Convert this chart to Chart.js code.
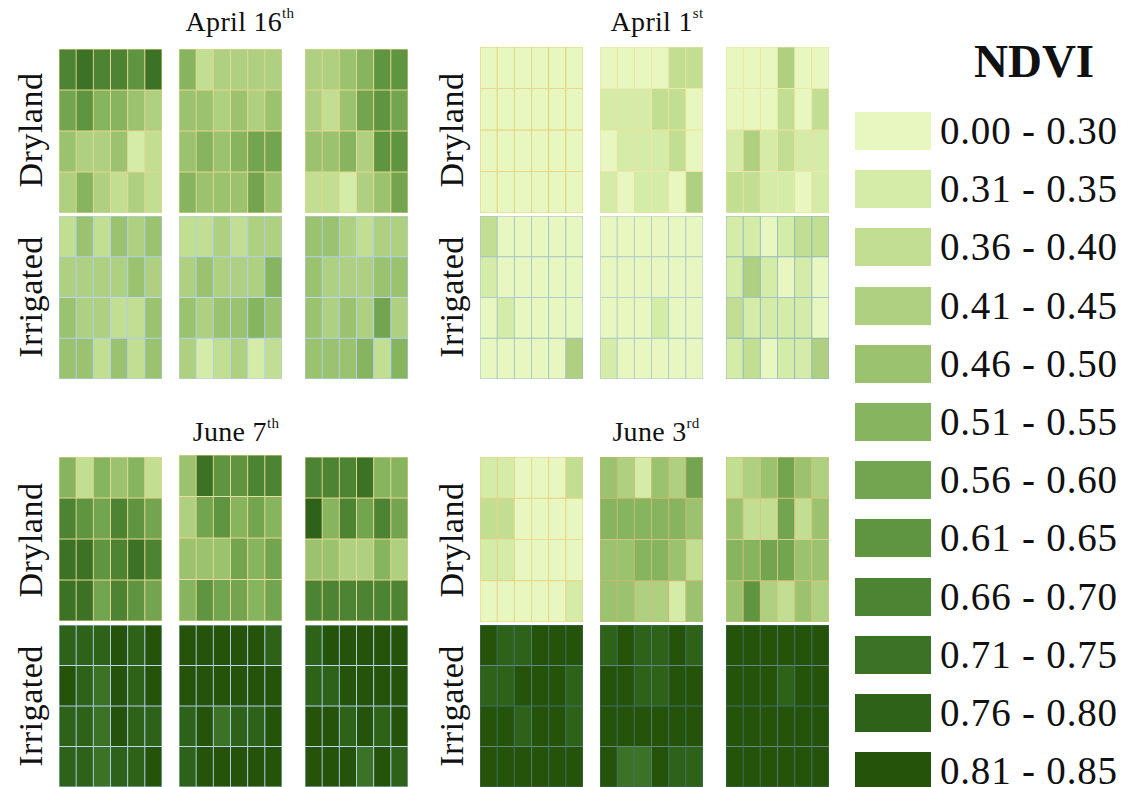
<!DOCTYPE html>
<html>
<head>
<meta charset="utf-8">
<script src="https://cdn.jsdelivr.net/npm/chart.js@4/dist/chart.umd.min.js"></script>
<style>
  html,body{margin:0;padding:0;background:#fff;}
  body{width:1131px;height:787px;position:relative;overflow:hidden;font-family:"Liberation Serif","DejaVu Serif",serif;color:#111;}
  .title{position:absolute;font-size:28px;white-space:nowrap;transform:translateX(-50%);letter-spacing:0.3px;}
  .title sup{font-size:15px;vertical-align:top;position:relative;top:-1px;}
  .side{position:absolute;font-size:34px;white-space:nowrap;transform:translate(-50%,-50%) rotate(-90deg);letter-spacing:0.5px;}
  .blk{position:absolute;}
  .sw{position:absolute;left:855px;width:76px;height:38px;}
  .lt{position:absolute;left:940px;font-size:39px;white-space:nowrap;line-height:38px;letter-spacing:0.8px;}
  .ndvi{position:absolute;font-size:47px;font-weight:bold;white-space:nowrap;}
</style>
</head>
<body>
<script>
// ---- legend classes ----
const classLabels = ["0.00 - 0.30","0.31 - 0.35","0.36 - 0.40","0.41 - 0.45","0.46 - 0.50","0.51 - 0.55",
                     "0.56 - 0.60","0.61 - 0.65","0.66 - 0.70","0.71 - 0.75","0.76 - 0.80","0.81 - 0.85"];
const classColors = ["#e8f7bf","#d5eba8","#c1de93","#aed080","#9bc36f","#87b45f",
                     "#73a44f","#5f9441","#4d8433","#3c7226","#2e6219","#25530a"];
const columns = ["1","2","3","4","5","6"];

// ---- NDVI class index per cell (rows top -> bottom, 6 columns) ----
// April 16th
const apr16Dry1 = [[8,9,8,8,7,9],[6,7,5,5,4,3],[4,3,3,4,1,2],[3,5,3,2,3,2]];
const apr16Irr1 = [[2,4,2,4,3,4],[3,3,3,3,4,3],[4,3,3,2,2,4],[4,4,2,4,2,4]];
const apr16Dry2 = [[5,2,3,3,3,3],[4,4,3,4,3,4],[4,5,4,5,6,6],[5,4,4,4,6,4]];
const apr16Irr2 = [[2,2,3,2,3,3],[3,4,3,3,3,5],[4,3,4,4,5,4],[3,1,2,3,1,2]];
const apr16Dry3 = [[3,3,4,5,7,7],[3,2,4,6,7,6],[4,4,5,3,7,7],[2,2,1,3,4,6]];
const apr16Irr3 = [[4,4,3,2,3,3],[4,3,3,3,4,4],[4,3,4,3,6,3],[4,4,4,5,2,5]];
// April 1st
const apr1Dry1 = [[0,0,0,0,0,0],[0,0,0,0,0,0],[0,0,0,0,0,0],[0,0,0,0,0,0]];
const apr1Irr1 = [[2,0,0,0,0,0],[1,0,0,0,0,0],[0,1,0,0,0,0],[0,0,0,0,0,3]];
const apr1Dry2 = [[0,0,0,0,2,2],[1,1,1,2,2,0],[0,1,1,1,2,0],[1,0,1,1,0,3]];
const apr1Irr2 = [[0,0,0,0,0,0],[0,0,0,0,0,0],[0,0,0,1,0,0],[1,0,0,0,0,0]];
const apr1Dry3 = [[0,0,0,3,0,0],[0,0,0,2,0,2],[1,3,1,2,1,1],[2,2,1,1,0,1]];
const apr1Irr3 = [[1,1,0,1,2,2],[1,3,1,0,1,0],[2,1,1,1,1,0],[1,2,0,1,1,3]];
// June 7th
const jun7Dry1 = [[5,2,5,4,5,2],[8,7,6,8,7,6],[9,9,7,8,9,8],[9,9,6,8,7,6]];
const jun7Irr1 = [[10,10,10,11,10,11],[11,10,9,11,10,11],[10,10,9,11,10,10],[10,10,9,10,10,11]];
const jun7Dry2 = [[4,9,7,7,8,8],[3,6,7,5,6,5],[4,4,4,6,5,6],[5,7,6,6,5,6]];
const jun7Irr2 = [[11,11,11,11,11,10],[11,11,11,11,11,11],[10,11,9,10,10,11],[10,11,11,11,11,11]];
const jun7Dry3 = [[8,8,8,9,5,5],[10,5,8,6,8,6],[4,4,3,3,5,3],[8,8,8,8,8,8]];
const jun7Irr3 = [[10,11,11,11,11,11],[10,10,11,11,11,11],[11,11,10,11,10,11],[11,11,11,9,11,10]];
// June 3rd
const jun3Dry1 = [[1,1,0,0,0,2],[2,2,0,0,0,0],[1,1,0,0,0,0],[0,0,0,0,0,1]];
const jun3Irr1 = [[11,10,10,11,11,11],[10,10,11,11,11,10],[11,11,10,11,11,10],[11,11,11,11,11,11]];
const jun3Dry2 = [[4,3,1,4,3,6],[5,5,5,5,5,4],[4,4,5,5,4,2],[4,4,3,3,1,4]];
const jun3Irr2 = [[10,11,10,10,11,10],[11,11,10,10,11,11],[11,11,11,11,11,11],[11,9,9,11,10,10]];
const jun3Dry3 = [[2,3,4,6,4,3],[4,2,2,6,2,4],[5,5,6,6,4,4],[4,7,3,2,4,3]];
const jun3Irr3 = [[11,11,11,11,11,11],[11,11,11,10,11,11],[11,11,11,11,11,11],[11,11,11,11,11,11]];

// ---- layout helpers ----
function addText(cls, html, left, top) {
  const d = document.createElement('div');
  d.className = cls; d.innerHTML = html;
  d.style.left = left + 'px'; d.style.top = top + 'px';
  document.body.appendChild(d);
  return d;
}

function block(grid, x, y, w, h, lineColor) {
  const wrap = document.createElement('div');
  wrap.className = 'blk';
  wrap.style.left = x + 'px'; wrap.style.top = y + 'px';
  wrap.style.width = w + 'px'; wrap.style.height = h + 'px';
  const cv = document.createElement('canvas');
  cv.width = w; cv.height = h;
  cv.style.width = w + 'px'; cv.style.height = h + 'px';
  wrap.appendChild(cv);
  document.body.appendChild(wrap);
  const nRows = grid.length;
  const datasets = grid.map((row, r) => ({
    data: row.map(() => [nRows - 1 - r, nRows - r]),
    backgroundColor: row.map(c => classColors[c]),
    borderColor: lineColor,
    borderWidth: 0.8,
    borderSkipped: false,
    barPercentage: 1,
    categoryPercentage: 1
  }));
  new Chart(cv, {
    type: 'bar',
    data: { labels: columns, datasets },
    options: {
      responsive: false, animation: false, maintainAspectRatio: false,
      layout: { padding: 0 },
      scales: {
        x: { display: false, stacked: true },
        y: { display: false, min: 0, max: nRows }
      },
      plugins: { legend: { display: false }, tooltip: { enabled: false } }
    }
  });
}

const dryLine = '#e4d68e';
const irrLine = '#b0d0ec';
const w = 103;
const xL = [59, 179, 305], xR = [480, 600, 726];

// top-left: April 16th
block(apr16Dry1, xL[0], 49, w, 164, dryLine);
block(apr16Dry2, xL[1], 49, w, 164, dryLine);
block(apr16Dry3, xL[2], 49, w, 164, dryLine);
block(apr16Irr1, xL[0], 216, w, 163, irrLine);
block(apr16Irr2, xL[1], 216, w, 163, irrLine);
block(apr16Irr3, xL[2], 216, w, 163, irrLine);
// top-right: April 1st
block(apr1Dry1, xR[0], 47, w, 166, '#e2d070');
block(apr1Dry2, xR[1], 47, w, 166, '#ece29a');
block(apr1Dry3, xR[2], 47, w, 166, '#ece29a');
block(apr1Irr1, xR[0], 216, w, 163, '#9fc2c8');
block(apr1Irr2, xR[1], 216, w, 163, '#a8c8cc');
block(apr1Irr3, xR[2], 216, w, 163, '#8fb8c0');
// bottom-left: June 7th
block(jun7Dry1, xL[0], 457, w, 164, dryLine);
block(jun7Dry2, xL[1], 455, w, 166, dryLine);
block(jun7Dry3, xL[2], 457, w, 164, dryLine);
block(jun7Irr1, xL[0], 625, w, 162, irrLine);
block(jun7Irr2, xL[1], 625, w, 162, irrLine);
block(jun7Irr3, xL[2], 625, w, 162, irrLine);
// bottom-right: June 3rd
block(jun3Dry1, xR[0], 457, w, 165, '#e6d380');
block(jun3Dry2, xR[1], 457, w, 165, '#c9b870');
block(jun3Dry3, xR[2], 457, w, 165, '#d6c27a');
block(jun3Irr1, xR[0], 625, w, 162, '#3f6f6a');
block(jun3Irr2, xR[1], 625, w, 162, '#3f6f6a');
block(jun3Irr3, xR[2], 625, w, 162, '#3f6f6a');

// titles
addText('title', 'April 16<sup>th</sup>', 240, 6);
addText('title', 'April 1<sup>st</sup>', 657, 6);
addText('title', 'June 7<sup>th</sup>', 236, 416);
addText('title', 'June 3<sup>rd</sup>', 656, 416);
// side labels
addText('side', 'Dryland', 31, 130);
addText('side', 'Irrigated', 31, 297);
addText('side', 'Dryland', 452, 130);
addText('side', 'Irrigated', 452, 297);
addText('side', 'Dryland', 31, 540);
addText('side', 'Irrigated', 31, 706);
addText('side', 'Dryland', 452, 540);
addText('side', 'Irrigated', 452, 706);

// legend
addText('ndvi', 'NDVI', 974, 34);
classLabels.forEach((lab, i) => {
  const top = 112 + i * 58.2;
  const s = document.createElement('div');
  s.className = 'sw'; s.style.top = top + 'px'; s.style.background = classColors[i];
  document.body.appendChild(s);
  addText('lt', lab, 940, top);
});
</script>
</body>
</html>
